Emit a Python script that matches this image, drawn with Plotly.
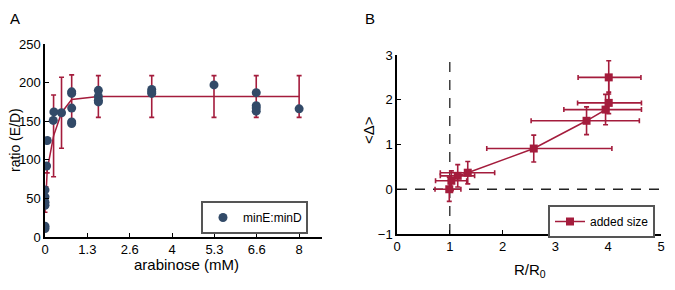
import plotly.graph_objects as go

# ---------------- Panel A data ----------------
ara_x = [0, 0, 0, 0, 0, 0, 0.05, 0.07, 0.26, 0.28, 0.52,
         0.84, 0.84, 0.84, 0.84, 0.84,
         1.68, 1.68, 1.68, 1.68,
         3.36, 3.36, 3.36,
         5.32,
         6.65, 6.65, 6.65, 6.65,
         8.0]
ratio_y = [11, 14, 41, 45, 52, 61, 92, 125, 151, 162, 161,
           188, 186, 167, 149, 147,
           190, 182, 177, 175,
           191, 188, 186,
           197,
           187, 170, 167, 163,
           166]

mean_x = [0, 0.03, 0.07, 0.27, 0.52, 0.84, 1.68, 3.36, 5.32, 6.65, 8.0]
mean_y = [42, 52, 87, 131, 161, 178, 182, 182, 182, 182, 182]
mean_err = [10, 13, 4, 53, 46, 32, 27, 27, 27, 27, 27]

a_tickvals = [0, 4/3, 8/3, 4, 16/3, 20/3, 8]
a_ticktext = ["0", "1.3", "2.6", "4", "5.3", "6.6", "8"]

# ---------------- Panel B data ----------------
rr_x = [0.99, 1.03, 1.15, 1.34, 2.59, 3.59, 3.95, 4.01, 4.01]
delta_y = [0.00, 0.19, 0.30, 0.37, 0.91, 1.53, 1.78, 1.93, 2.50]
xerr_plus = [0.22, 0.29, 0.32, 0.51, 1.48, 1.00, 0.68, 0.62, 0.61]
xerr_minus = [0.27, 0.30, 0.33, 0.52, 0.89, 1.05, 0.79, 0.59, 0.58]
yerr_b = [0.27, 0.22, 0.25, 0.25, 0.30, 0.31, 0.34, 0.24, 0.37]
b_tickvals = [0, 1, 2, 3, 4, 5]

RED = "#a41c3c"
BLUE = "#324a68"
FONT = "Liberation Sans, Arial, sans-serif"
W, H = 659, 274
OFF = 8  # page body margin offset


def px_x(p):
    return (p - OFF) / W


def px_y(p):
    return (H - (p - OFF)) / H


fig = go.Figure()

fig.add_trace(go.Scatter(
    x=mean_x, y=mean_y, mode="lines", xaxis="x", yaxis="y",
    line=dict(color=RED, width=1.5), showlegend=False,
    error_y=dict(type="data", array=mean_err, color=RED, thickness=1.6, width=2.5),
))
fig.add_trace(go.Scatter(
    x=ara_x, y=ratio_y, mode="markers", xaxis="x", yaxis="y",
    marker=dict(color=BLUE, size=9), name="minE:minD", legend="legend",
))

fig.add_trace(go.Scatter(
    x=rr_x, y=delta_y, mode="lines+markers", xaxis="x2", yaxis="y2",
    line=dict(color=RED, width=1.5),
    marker=dict(color=RED, symbol="square", size=8),
    error_x=dict(type="data", array=xerr_plus, arrayminus=xerr_minus, symmetric=False,
                 color=RED, thickness=1.6, width=2.5),
    error_y=dict(type="data", array=yerr_b, color=RED, thickness=1.6, width=2.5),
    name="added size", legend="legend2",
))

axis_common = dict(
    showline=True, linecolor="black", linewidth=1.5, ticks="inside", ticklen=4,
    tickcolor="black", tickwidth=1.2, showgrid=False, zeroline=False,
    tickfont=dict(size=13, color="black", family=FONT), mirror=False,
    automargin=False, ticklabeloverflow="allow",
)

legend_common = dict(
    xanchor="right", yanchor="top", orientation="h",
    bordercolor="#555555", borderwidth=2, bgcolor="white",
    font=dict(size=12, color="black"), itemwidth=30,
    entrywidth=58, entrywidthmode="pixels",
)


def title_ann(text, x, y, angle=0, size=15):
    return dict(text=text, x=px_x(x), y=px_y(y), xref="paper", yref="paper",
                xanchor="center", yanchor="middle", showarrow=False, textangle=angle,
                font=dict(size=size, color="black", family=FONT))


fig.update_layout(
    width=W, height=H,
    margin=dict(l=0, r=0, t=0, b=0, autoexpand=False),
    paper_bgcolor="white", plot_bgcolor="white",
    font=dict(family=FONT, color="black"),
    xaxis=dict(domain=[px_x(45), px_x(322)], range=[0, 8.72], anchor="y",
               tickvals=a_tickvals, ticktext=a_ticktext, **axis_common),
    yaxis=dict(domain=[px_y(237), px_y(44)], range=[0, 250], anchor="x",
               tickvals=[0, 50, 100, 150, 200, 250], **axis_common),
    xaxis2=dict(domain=[px_x(397), px_x(661)], range=[0, 5], anchor="y2",
                tickvals=b_tickvals, **axis_common),
    yaxis2=dict(domain=[px_y(234), px_y(55)], range=[-1, 3], anchor="x2",
                tickvals=[-1, 0, 1, 2, 3], **axis_common),
    legend=dict(x=px_x(308), y=px_y(201), **legend_common),
    legend2=dict(x=px_x(655), y=px_y(205), **legend_common),
    shapes=[
        dict(type="line", xref="x2", yref="y2", x0=1, x1=1, y0=-1, y1=3,
             line=dict(color="#222222", width=1.3, dash="10px,8px"), layer="below"),
        dict(type="line", xref="x2", yref="y2", x0=0, x1=5, y0=0, y1=0,
             line=dict(color="#222222", width=1.3, dash="10px,8px"), layer="below"),
    ],
    annotations=[
        dict(text="A", x=0, y=1.0, xref="paper", yref="paper",
             xanchor="left", yanchor="top", showarrow=False,
             font=dict(size=15, color="black")),
        dict(text="B", x=px_x(363), y=1.0, xref="paper", yref="paper",
             xanchor="left", yanchor="top", showarrow=False,
             font=dict(size=15, color="black")),
        title_ann("ratio (E/D)", 15, 140, -90, 14),
        title_ann("arabinose (mM)", 187, 264),
        title_ann("&lt;Δ&gt;", 368, 130, -90),
        title_ann("R/R<sub>0</sub>", 530, 270),
    ],
)

fig.write_html("out.html")
